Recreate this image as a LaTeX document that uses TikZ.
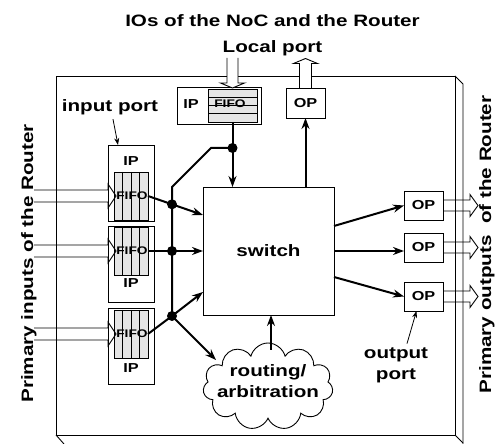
\documentclass[tikz,border=0pt]{standalone}
\usepackage{fontspec}
\setmainfont{Liberation Sans}[FakeStretch=1.25]
\usetikzlibrary{arrows.meta,shapes.symbols}

\begin{document}
\begin{tikzpicture}[x=1pt,y=1pt,line width=0.9pt,
  big/.style={font=\fontsize{16.5}{21}\selectfont\bfseries},
  small/.style={font=\fontsize{13}{15}\selectfont\bfseries},
  tiny/.style={font=\fontsize{11}{13}\selectfont\bfseries,inner sep=0pt},
  box/.style={draw,fill=white,inner sep=0pt,outer sep=0pt},
  fifo/.style={draw,fill=gray!20,inner sep=0pt,outer sep=0pt},
  wire/.style={line width=2pt},
  ar/.style={wire,-{Stealth[length=11pt,width=8pt]}},
  pointer/.style={line width=0.8pt,-{Stealth[length=7pt,width=5pt]}},
  dot/.style={circle,fill,inner sep=0pt,minimum size=10pt}]
\useasboundingbox (0,0) rectangle (496,444);

% router body
\draw (56,9) rectangle (455,368);
\draw (455,368) -- (463,360) -- (463,-2);
\draw (56,9) -- (64,0);
\draw (455,9) -- (463,1);

% input ports
\node[box,minimum width=46,minimum height=76] (ip1) at (131,261) {};
\node[box,minimum width=46,minimum height=76] (ip2) at (131,180) {};
\node[box,minimum width=46,minimum height=76] (ip3) at (131,98) {};
\node[small] (ip1t) at (131,283) {IP};
\node[small] (ip2t) at (131,161) {IP};
\node[small] (ip3t) at (131,76) {IP};
\node[fifo,minimum width=34,minimum height=48] (f1) at (131,248) {};
\node[fifo,minimum width=34,minimum height=48] (f2) at (131,193) {};
\node[fifo,minimum width=34,minimum height=48] (f3) at (131,110) {};
\foreach \f in {f1,f2,f3}{
  \foreach \c in {-8.5,0,8.5}
    \draw ([xshift=\c]\f.north) -- ([xshift=\c]\f.south);
  \node[tiny] (\f t) at ([xshift=1]\f) {FIFO};
  \draw ([xshift=-80,yshift=6]\f.west) -- ++(74,0) -- ++(0,6) -- ++(8,-12)
    -- ++(-8,-12) -- ++(0,6) -- ++(-74,0);
}

% local port
\node[box,minimum width=84,minimum height=37] (lip) at (219,338.5) {};
\node[small] (lipt) at (191,340) {IP};
\node[fifo,minimum width=49,minimum height=33] (lf) at (232.5,338.5) {};
\node[tiny] (lft) at (230,340) {FIFO};
\foreach \r in {-8.25,0,8.25}
  \draw ([yshift=\r]lf.west) -- ([yshift=\r]lf.east);
\draw[fill=white] ([xshift=-5.5,yshift=31]lf.north) -- ++(0,-25) -- ++(-6.5,0)
  -- ++(12,-5) -- ++(12,5) -- ++(-6.5,0) -- ++(0,25);
\node[box,small,minimum width=39,minimum height=30] (lop) at (305.5,341) {OP};
\draw[fill=white] ([xshift=-6]lop.north) -- ++(0,24.5) -- ++(-6,0) -- ++(12,5)
  -- ++(12,-5) -- ++(-6,0) -- ++(0,-24.5);

% switch and output ports
\node[box,big,minimum width=131,minimum height=128] (sw) at (268.5,193) {switch};
\node[box,small,minimum width=39,minimum height=29] (op1) at (423.5,238.5) {OP};
\node[box,small,minimum width=39,minimum height=29] (op2) at (423.5,196.5) {OP};
\node[box,small,minimum width=39,minimum height=29] (op3) at (423.5,147.5) {OP};
\foreach \o in {op1,op2,op3}
  \draw ([yshift=5.5]\o.east) -- ++(27,0) -- ++(0,5.5) -- ++(8,-11)
    -- ++(-8,-11) -- ++(0,5.5) -- ++(-27,0);

% routing
\node[cloud,draw,cloud puffs=11,aspect=1.5,inner sep=0pt,
  minimum width=130,minimum height=87] (rc) at (268,57.5) {};
\node[big,align=center] (rt) at (268,62.5) {routing/\\arbitration};

% wires
\node[dot] (d0) at (232.5,296) {};
\node[dot] (d1) at (172,239.7) {};
\node[dot] (d2) at (172,193) {};
\node[dot] (d3) at (172,128) {};
\coordinate (b1) at (211,296);
\coordinate (b2) at (172,257);
\coordinate (s1) at (203,229);
\coordinate (s3) at (203,152);
\coordinate (c1) at (216,84);
\coordinate (c2) at (271,94);
\coordinate (o1) at (334,218);
\coordinate (o3) at (334,167);

\draw[wire] (lf.south) -- (d0.center);
\draw[ar] (d0.center) -- (d0 |- sw.north);
\draw[wire] (d0.center) -- (b1) -- (b2) -- (d3.center);
\draw[wire] (f1.east) -- (d1.center);
\draw[ar] (d1.center) -- (s1);
\draw[wire] (f2.east) -- (d2.center);
\draw[ar] (d2.center) -- (sw.west);
\draw[wire] (f3.east) -- (d3.center);
\draw[ar] (d3.center) -- (s3);
\draw[ar] (d3.center) -- (c1);
\draw[ar] (c2) -- (c2 |- sw.south);
\draw[ar] (sw.north -| lop.south) -- (lop.south);
\draw[ar] (o1) -- (op1.west);
\draw[ar] (sw.east) -- (sw.east -| op2.west);
\draw[ar] (o3) -- (op3.west);

% labels
\node[big,anchor=base] (title) at (272.5,417) {IOs of the NoC and the Router};
\node[big,anchor=base] (local) at (272.5,391) {Local port};
\node[big,anchor=base] (inport) at (110,332) {input port};
\draw[pointer] ([xshift=3]inport.south) -- ([xshift=-13]ip1.north);
\node[big,align=center] (outport) at (396,79) {output\\port};
\draw[pointer] ([xshift=11]outport.north) -- ([xshift=-7]op3.south);
\node[big,rotate=90,anchor=base] (inlbl) at (33,180.5) {Primary inputs of the Router};
\node[big,rotate=90,anchor=base] (outlbl) at (491,199.5) {Primary outputs\ \ of the Router};
\end{tikzpicture}
\end{document}
